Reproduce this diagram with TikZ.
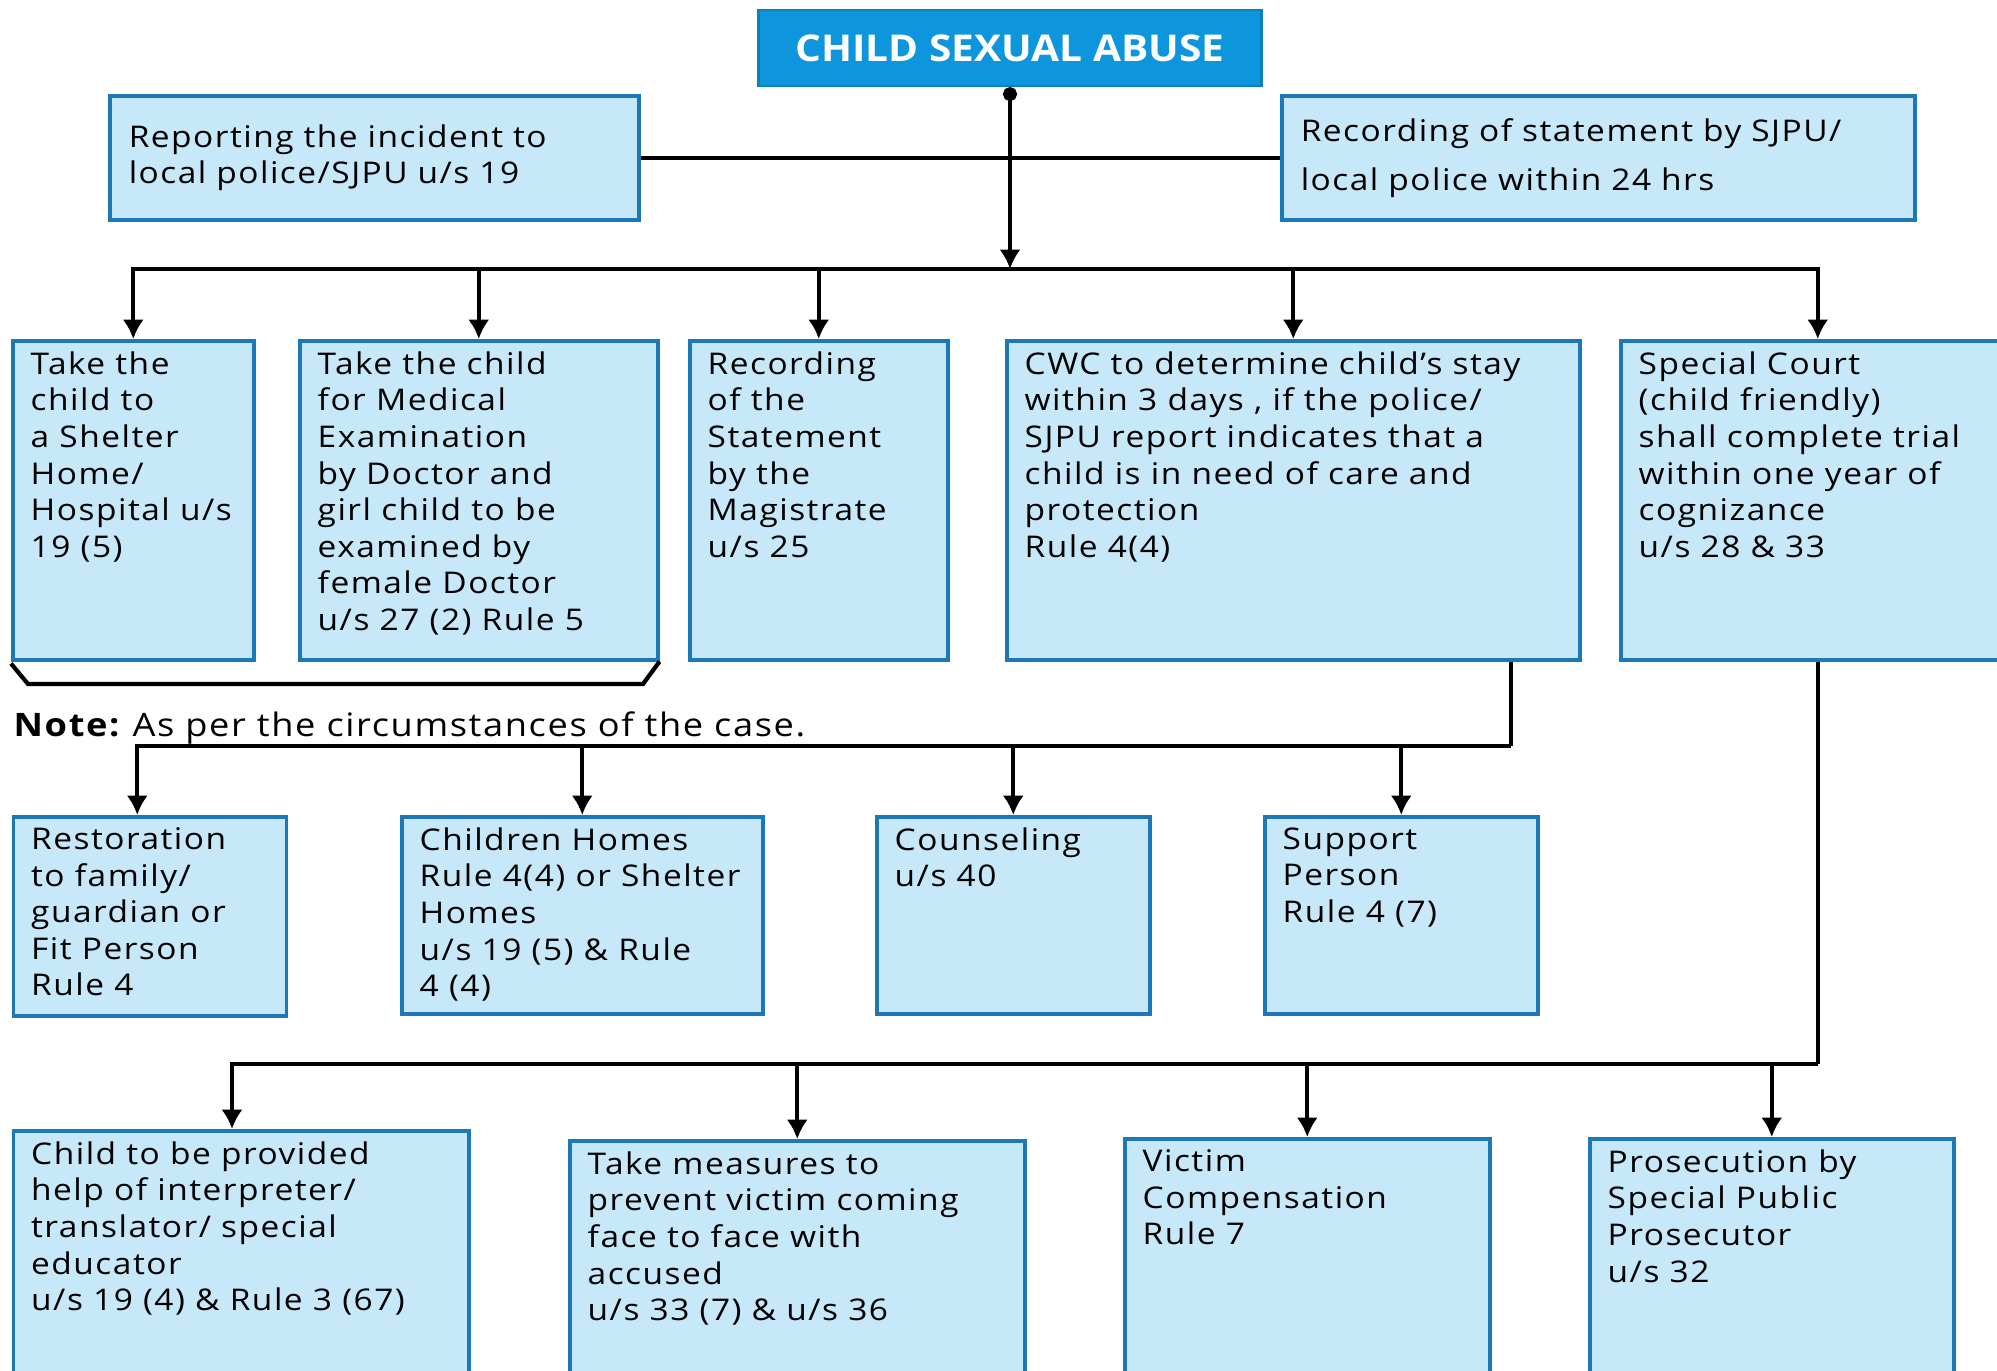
\documentclass[tikz,border=0pt]{standalone}
\usepackage{fontspec}
\setmainfont{Open Sans}[FakeStretch=1.12, LetterSpace=5]
\newfontfamily\titlefont{Open Sans}[FakeStretch=1.1]
\usetikzlibrary{arrows.meta}
\definecolor{boxfill}{RGB}{198,232,248}
\definecolor{boxline}{RGB}{28,120,182}
\definecolor{titlefill}{RGB}{14,150,220}
\tikzset{
  boxframe/.style={draw=boxline, fill=boxfill, line width=1pt, anchor=north west, inner sep=0pt},
  boxtext/.style={anchor=north west, align=left, inner xsep=0.19cm, inner ysep=0.12cm,
    font=\fontsize{8.5}{10.4}\selectfont},
  link/.style={line width=1.2pt},
  conn/.style={link, -{Latex[length=5.5pt,width=6pt]}}
}
\newcommand{\infobox}[5]
{
\node[boxframe, minimum width=#3cm, minimum height=#4cm] (#1) at (#2) {};
\node[boxtext] (#1-text) at (#1.north west) {#5};
}

\begin{document}
\begin{tikzpicture}[
  % show background grid
  ]
  \path[use as bounding box] (0,0) rectangle (19.97,-13.70);
  \clip (0,0) rectangle (19.97,-13.70);

  \node[fill=titlefill, draw=titlefill!85!black, line width=0.6pt,
    minimum width=5.03cm, minimum height=0.76cm, text=white,
    font=\titlefont\bfseries\fontsize{10.5}{12}\selectfont] (csa) at (10.10,-0.48) {CHILD SEXUAL ABUSE};

  \node[boxframe, minimum width=5.29cm, minimum height=1.24cm, text width=4.91cm,
    align=left, inner xsep=0.19cm, font=\fontsize{8.5}{10.4}\selectfont]
    (report) at (1.08,-0.94) {Reporting the incident to\\local police/SJPU u/s 19};
  \node[boxframe, minimum width=6.33cm, minimum height=1.24cm, text width=5.95cm,
    align=left, inner xsep=0.19cm, font=\fontsize{8.5}{14}\selectfont]
    (statement) at (12.80,-0.94) {Recording of statement by SJPU/\\local police within 24 hrs};

  % first row
  \infobox{shelter}{0.11,-3.39}{2.41}{3.19}{Take the\\child to\\a Shelter\\Home/\\Hospital u/s\\19 (5)}
  \infobox{medical}{2.98,-3.39}{3.58}{3.19}{Take the child\\for Medical\\Examination\\by Doctor and\\girl child to be\\examined by\\female Doctor\\u/s 27 (2) Rule 5}
  \infobox{magistrate}{6.88,-3.39}{2.58}{3.19}{Recording\\of the\\Statement\\by the\\Magistrate\\u/s 25}
  \infobox{cwc}{10.05,-3.39}{5.73}{3.19}{CWC to determine child’s stay\\within 3 days , if the police/\\SJPU report indicates that a\\child is in need of care and\\protection\\Rule 4(4)}
  \infobox{court}{16.19,-3.39}{3.94}{3.19}{Special Court\\(child friendly)\\shall complete trial\\within one year of\\cognizance\\u/s 28 \& 33}

  \node[anchor=base west, inner sep=0pt, font=\fontsize{9.2}{11}\selectfont]
    (note) at (0.13,-7.36) {\textbf{Note:}\hspace{-0.1em} As per the circumstances of the case.};

  \coordinate (split1) at (10.10,-2.69);
  \coordinate (split2) at (15.11,-7.46);
  \coordinate (split3) at (court.south |- 0,-10.64);

  % second row
  \infobox{restore}{0.115,-8.15}{2.73}{1.99}{Restoration\\to family/\\guardian or\\Fit Person\\Rule 4}
  \infobox{homes}{4.00,-8.15}{3.61}{1.97}{Children Homes\\Rule 4(4) or Shelter\\Homes\\u/s 19 (5) \& Rule\\4 (4)}
  \infobox{counsel}{8.75,-8.15}{2.73}{1.97}{Counseling\\u/s 40}
  \infobox{support}{12.63,-8.15}{2.73}{1.97}{Support\\Person\\Rule 4 (7)}

  % third row
  \infobox{interpreter}{0.115,-11.29}{4.555}{3.0}{Child to be provided\\help of interpreter/\\translator/ special\\educator\\u/s 19 (4) \& Rule 3 (67)}
  \infobox{measures}{5.68,-11.39}{4.55}{3.0}{Take measures to\\prevent victim coming\\face to face with\\accused\\u/s 33 (7) \& u/s 36}
  \infobox{compensation}{11.23,-11.37}{3.65}{3.0}{Victim\\Compensation\\Rule 7}
  \infobox{prosecution}{15.88,-11.37}{3.64}{3.0}{Prosecution by\\Special Public\\Prosecutor\\u/s 32}

  \draw[link] (report.east) -- (statement.west);
  \draw[link, {Circle[length=4pt]}-{Latex[length=5.5pt,width=6pt]}] (csa.south) -- (split1);
  \foreach \b in {shelter, medical, magistrate, cwc, court}
    \draw[conn] (split1) -| (\b.north);

  \draw[link] ([yshift=-0.02cm]shelter.south west) -- (0.28,-6.84) -- (6.43,-6.84) -- (medical.south east);

  \draw[link] (cwc.south -| split2) -- (split2);
  \draw[conn] (split2) -| ([xshift=-0.125cm]restore.north);
  \foreach \b in {homes, counsel, support}
    \draw[conn] (split2) -| (\b.north);

  \draw[link] (court.south) -- (split3);
  \draw[conn] (split3) -| ([xshift=-0.09cm]interpreter.north);
  \foreach \b in {measures, compensation, prosecution}
    \draw[conn] (split3) -| (\b.north);

\end{tikzpicture}
\end{document}
